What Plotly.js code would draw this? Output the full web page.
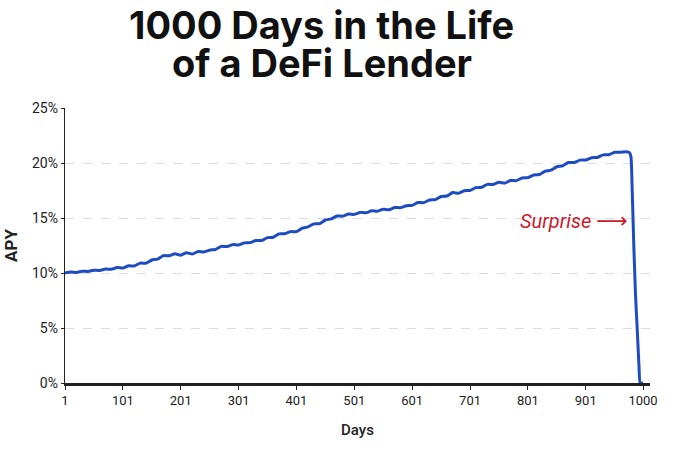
<!DOCTYPE html>
<html>
<head>
<meta charset="utf-8">
<script src="https://cdn.plot.ly/plotly-3.0.1.min.js"></script>
<style>html,body{margin:0;padding:0;background:#fff;}#chart{width:680px;height:453px;}</style>
</head>
<body>
<div id="chart"></div>
<script>
// Days (x) and APY in percent (y)
const days = [1,11,21,31,41,51,61,71,81,91,101,111,121,131,141,151,161,171,181,191,
  201,211,221,231,241,251,261,271,281,291,301,311,321,331,341,351,361,371,381,391,
  401,411,421,431,441,451,461,471,481,491,501,511,521,531,541,551,561,571,581,591,
  601,611,621,631,641,651,661,671,681,691,701,711,721,731,741,751,761,771,781,791,
  801,811,821,831,841,851,861,871,881,891,901,911,921,931,941,951,961,971,976,979,
  981,984,987,990,993,995,1000];
const apy = [10.00,10.08,10.05,10.16,10.14,10.26,10.22,10.36,10.34,10.49,10.45,10.65,10.64,10.90,10.89,11.18,11.26,11.58,11.56,11.74,
  11.62,11.84,11.72,11.96,11.90,12.08,12.14,12.42,12.40,12.58,12.55,12.74,12.76,12.96,12.95,13.22,13.25,13.56,13.57,13.76,
  13.76,14.07,14.19,14.47,14.49,14.82,14.92,15.18,15.17,15.36,15.33,15.51,15.47,15.66,15.62,15.80,15.75,15.96,15.93,16.11,
  16.15,16.41,16.40,16.64,16.67,16.96,17.00,17.31,17.25,17.48,17.50,17.76,17.80,18.06,18.05,18.24,18.17,18.41,18.40,18.64,
  18.67,18.91,18.95,19.26,19.35,19.66,19.75,20.04,20.05,20.26,20.27,20.48,20.50,20.74,20.75,20.98,20.97,21.03,20.96,20.60,
  18.00,12.50,8.00,4.80,1.50,0.00,0.00];
const xTicks = [1,101,201,301,401,501,601,701,801,901,1000];
const yTicks = [0,5,10,15,20,25];
const yTickText = ['0%','5%','10%','15%','20%','25%'];
const titleLines = ['1000 Days in the Life', 'of a DeFi Lender'];
const noteWord = 'Surprise';
const noteArrow = '⟶';

const trace = {
  x: days, y: apy, type: 'scatter', mode: 'lines',
  line: {color: '#1d4cc2', width: 3, shape: 'spline', smoothing: 0.5},
  hoverinfo: 'skip'
};

const layout = {
  width: 680, height: 453,
  margin: {l: 65, r: 30, t: 108, b: 70},
  paper_bgcolor: '#fff', plot_bgcolor: '#fff',
  showlegend: false,
  font: {family: 'Roboto, sans-serif', color: '#222'},
  xaxis: {
    range: [1, 1012], tickvals: xTicks, ticktext: xTicks.map(String),
    showgrid: false, zeroline: false,
    showline: true, linecolor: '#222', linewidth: 2.5,
    ticks: 'outside', ticklen: 4, tickcolor: '#222', tickwidth: 1,
    tickfont: {size: 13, color: '#222'},
    title: {text: 'Days', font: {size: 15, color: '#222', weight: 500}, standoff: 18}
  },
  yaxis: {
    range: [0, 25], tickvals: yTicks, ticktext: yTickText,
    showgrid: true, gridcolor: '#dcdcdc', griddash: 'dash', gridwidth: 1,
    zeroline: false,
    showline: true, linecolor: '#222', linewidth: 1.3,
    ticks: 'outside', ticklen: 3, tickcolor: '#222',
    tickfont: {size: 14, color: '#222'},
    title: {text: 'APY', font: {size: 17, color: '#222', weight: 700}, standoff: 10}
  },
  annotations: [
    {xref: 'paper', yref: 'paper', x: 0.439, y: 1.302, xanchor: 'center', yanchor: 'middle',
     text: titleLines[0], showarrow: false,
     font: {family: 'Inter, sans-serif', size: 38, weight: 700, color: '#111'}},
    {xref: 'paper', yref: 'paper', x: 0.439, y: 1.163, xanchor: 'center', yanchor: 'middle',
     text: titleLines[1], showarrow: false,
     font: {family: 'Inter, sans-serif', size: 38, weight: 700, color: '#111'}},
    {xref: 'x', yref: 'y', x: 978, y: 14.8, xanchor: 'right', yanchor: 'middle',
     text: '<i>' + noteWord + '</i> <span style="font-family:DejaVu Sans;font-size:22px">' + noteArrow + '</span>',
     showarrow: false,
     font: {family: 'Roboto, sans-serif', size: 20, color: '#c8202c'}}
  ]
};

Plotly.newPlot('chart', [trace], layout, {displayModeBar: false, staticPlot: true});
</script>
</body>
</html>
